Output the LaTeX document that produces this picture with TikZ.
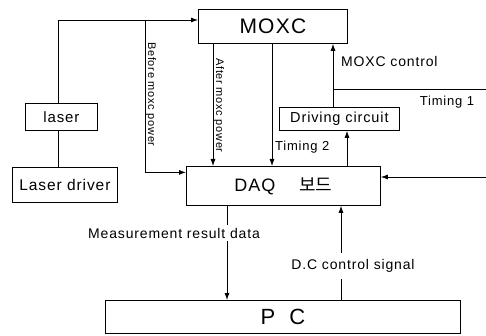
\documentclass[tikz,border=0pt]{standalone}
\usepackage{fontspec}
\setmainfont{Liberation Sans}[LetterSpace=6]
\newfontfamily\krfont{Noto Sans CJK KR}
\usetikzlibrary{arrows.meta}

\tikzset{
  box/.style={draw, line width=0.8pt, inner sep=0pt, anchor=north west},
  lbl/.style={font=\fontsize{14}{16}\selectfont, inner sep=1pt},
  vlbl/.style={font=\fontsize{11}{13}\selectfont, rotate=-90, inner sep=1pt},
  ln/.style={line width=0.8pt},
  arr/.style={line width=0.8pt, -{Latex[length=7pt,width=5pt]}}
}

\begin{document}
\begin{tikzpicture}[x=1pt,y=-1pt]
  % \draw[help lines, gray!50, very thin] (0,0) grid[step=20] (486,336);
  \useasboundingbox (0,0) rectangle (486,336);

  \node[box, minimum width=149pt, minimum height=34pt, font=\fontsize{21}{21}\selectfont] (moxc) at (198,9) {MOXC};
  \node[box, minimum width=72pt, minimum height=27pt, font=\fontsize{15}{17}\selectfont] (laser) at (25,103) {laser};
  \node[box, minimum width=105pt, minimum height=35pt, font=\fontsize{15.5}{17}\selectfont] (ldriver) at (12,167) {Laser driver};
  \node[box, minimum width=120pt, minimum height=23pt, font=\fontsize{14.5}{17}\selectfont] (drv) at (279,107) {Driving circuit};
  \node[box, minimum width=194pt, minimum height=39pt, font=\fontsize{18}{20}\selectfont] (daq) at (186,166) {DAQ\hspace{24pt}{\krfont 보드}};
  \node[box, minimum width=355pt, minimum height=33pt, font=\fontsize{22}{24}\selectfont] (pc) at (105,300) {P\hspace{14pt}C};

  % laser side
  \coordinate (bp) at (145,20);
  \draw[arr] ([xshift=-3pt]laser.north) |- (moxc.west |- bp);
  \draw[ln] ([xshift=-3pt]laser.south) -- ([xshift=-3pt]laser.south |- ldriver.north);
  \draw[arr] (bp) |- ([yshift=13.5pt]daq.west);
  \node[vlbl] (bmp) at (151,94.5) {Before moxc power};

  % moxc outputs
  \draw[arr] (moxc.south -| 213,0) -- (daq.north -| 213,0);
  \node[vlbl] (amp) at (219,105.5) {After moxc power};
  \draw[arr] (moxc.south -| 272,0) -- (daq.north -| 272,0);
  \node[lbl, anchor=west, font=\fontsize{13}{15}\selectfont] (t2) at (274,147) {Timing 2};

  % driving circuit
  \draw[arr] (daq.north -| 347,0) -- (drv.south -| 347,0);
  \draw[arr] (drv.north -| 333,0) -- (moxc.south -| 333,0);
  \node[lbl, anchor=west] (mc) at (340,62) {MOXC control};
  \coordinate (t1a) at (333,89);
  \coordinate (t1b) at (486,89);
  \draw[ln] (t1a) -- (t1b);
  \node[lbl, font=\fontsize{13}{15}\selectfont] (t1) at (447,102) {Timing 1};
  \coordinate (rin) at (486,177);
  \draw[arr] (rin) -- (daq.east |- rin);

  % pc
  \draw[arr] (daq.south -| 227,0) -- (pc.north -| 227,0);
  \node[lbl, fill=white, inner ysep=3pt] (mrd) at (174,233) {Measurement result data};
  \draw[arr] (pc.north -| 341,0) -- (daq.south -| 341,0);
  \node[lbl, fill=white, inner ysep=6pt] (dcs) at (353,266) {D.C control signal};
\end{tikzpicture}
\end{document}
